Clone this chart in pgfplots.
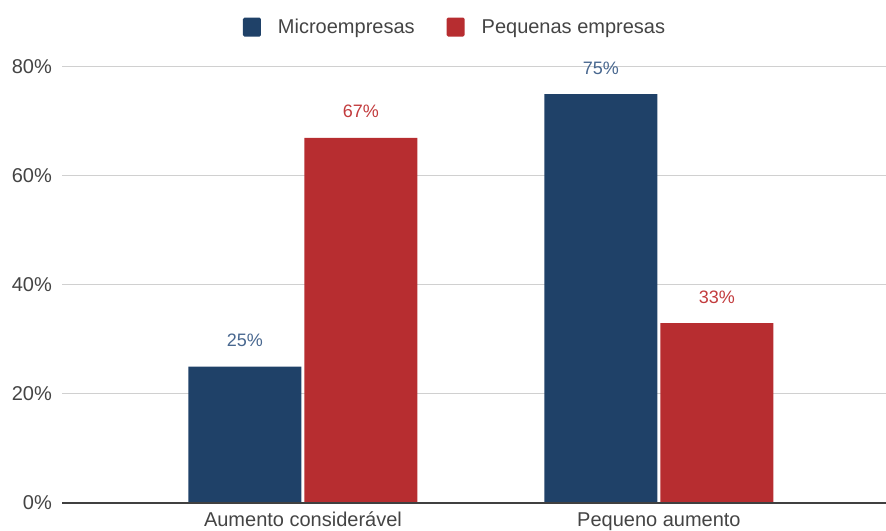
\documentclass[border=0pt]{standalone}
\usepackage{fontspec}
\setmainfont{Liberation Sans}
\usepackage{pgfplots}
\pgfplotsset{compat=1.18}

\definecolor{microblue}{HTML}{1F4168}
\definecolor{pequred}{HTML}{B72D30}
\definecolor{microtxt}{HTML}{48678F}
\definecolor{pequtxt}{HTML}{C23B3D}
\definecolor{ticktxt}{HTML}{444444}
\definecolor{gridgray}{HTML}{D0D0D0}

\pgfplotsset{
  sqlegend/.style={legend image code/.code={%
    \fill[##1, rounded corners=1.5bp] (0bp,-9.5bp) rectangle (18bp,9.5bp);}},
}

\begin{document}
\begin{tikzpicture}
\useasboundingbox (0,0) rectangle (886bp,531bp);
\begin{axis}[
  at={(62bp,28bp)}, anchor=south west,
  scale only axis, width=824bp, height=436bp,
  xmin=-0.677, xmax=1.638, ymin=0, ymax=80,
  clip=false,
  ybar, bar width=113bp,
  xtick={0,1},
  xticklabels={Aumento considerável, Pequeno aumento},
  ytick={0,20,40,60,80},
  yticklabel={\pgfmathprintnumber{\tick}\%},
  /pgf/number format/assume math mode=true,
  axis line style={draw=none},
  major tick length=0pt,
  ymajorgrids,
  grid style={draw=gridgray, line width=1bp},
  tick label style={font=\fontsize{20bp}{24bp}\selectfont, text=ticktxt, inner sep=0pt},
  yticklabel shift=10bp,
  xticklabel style={anchor=base},
  xticklabel shift=23bp,
  legend columns=-1,
  legend style={at={(0.477,1.0917)}, anchor=center, draw=none, fill=none,
    font=\fontsize{20bp}{24bp}\selectfont, text=ticktxt,
    /tikz/every odd column/.append style={column sep=15bp},
    /tikz/every even column/.append style={column sep=30bp}},
  every node near coord/.append style={font=\fontsize{18bp}{22bp}\selectfont,
    anchor=base, yshift=20bp},
  nodes near coords={\pgfmathprintnumber{\pgfplotspointmeta}\%},
]
\addplot[sqlegend, fill=microblue, draw=none, bar shift=-58bp,
  every node near coord/.append style={text=microtxt}]
  coordinates {(0,25) (1,75)};
\addlegendentry{Microempresas}
\addplot[sqlegend, fill=pequred, draw=none, bar shift=58bp,
  every node near coord/.append style={text=pequtxt}]
  coordinates {(0,67) (1,33)};
\addlegendentry{Pequenas empresas}
% dark baseline at 0%
\draw[draw=black!75, line width=1.3bp] (rel axis cs:0,0) -- (rel axis cs:1,0);
\end{axis}
\end{tikzpicture}
\end{document}
